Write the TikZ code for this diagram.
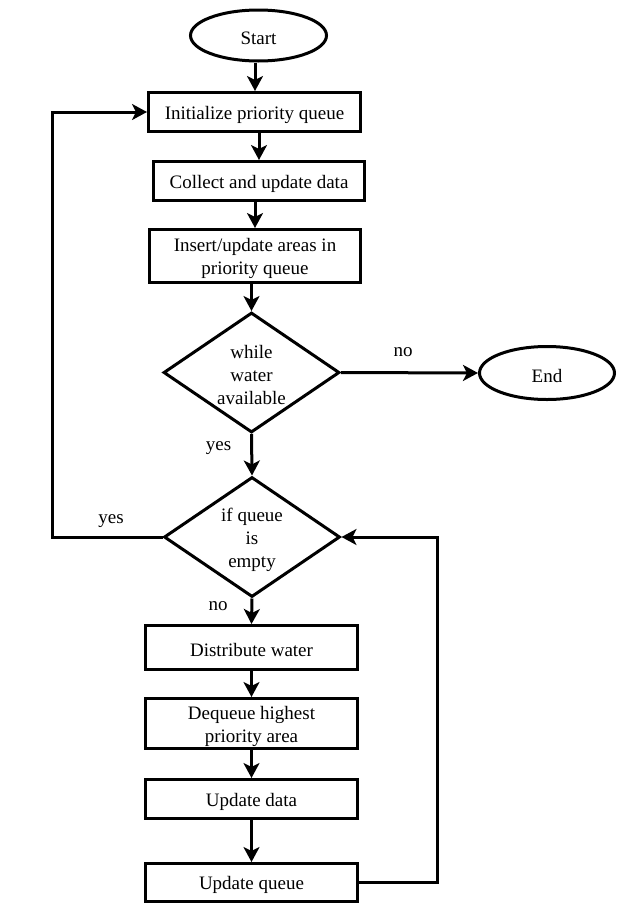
\documentclass[tikz,border=0pt]{standalone}
\usepackage{fontspec}
\setmainfont{Liberation Serif}
\usetikzlibrary{shapes.geometric,arrows.meta}

\begin{document}
\begin{tikzpicture}[x=1pt,y=-1pt,
  every node/.style={font=\fontsize{19}{23}\selectfont, align=center},
  every label/.style={inner sep=0pt},
  % the caption sits a little below the geometric centre of its shape
  caption/.style={label={[yshift=-2.5pt]center:{#1}}},
  proc/.style={draw, line width=3pt, rectangle, inner sep=0pt, minimum width=212pt},
  term/.style={draw, line width=3pt, ellipse, inner sep=0pt},
  decision/.style={draw, line width=3pt, diamond, inner sep=0pt,
    minimum width=176pt, minimum height=120pt},
  arr/.style={line width=3pt, -{Stealth[length=15pt, width=16pt, inset=4pt]}},
  lbl/.style={anchor=base, inner sep=0pt}
]
\useasboundingbox (0,0) rectangle (625,913);

% shapes with their captions
\node[term, minimum width=136pt, minimum height=51pt, caption={Start}] (start) at (258.5,35.5) {};
\node[proc, minimum height=39pt, caption={Initialize priority queue}] (init) at (254.5,112) {};
\node[proc, minimum width=211pt, minimum height=39pt, caption={Collect and update data}] (collect) at (259,181) {};
\node[proc, minimum width=211pt, minimum height=53pt, caption={Insert/update areas in\\priority queue}] (insert) at (255,256) {};
\node[decision, caption={while\\water\\available}] (water) at (251.5,372.5) {};
\node[term, minimum width=135pt, minimum height=53pt, caption={End}] (end) at (547,373) {};
\node[decision, caption={if queue\\is\\empty}] (empty) at (252,537) {};
\node[proc, minimum height=44pt, caption={Distribute water}] (distribute) at (251.5,647.5) {};
\node[proc, minimum height=50pt, caption={Dequeue highest\\priority area}] (dequeue) at (251.5,723.5) {};
\node[proc, minimum height=39pt, caption={Update data}] (udata) at (251.5,799) {};
\node[proc, minimum height=38pt, caption={Update queue}] (uqueue) at (251.5,882.5) {};

% main flow
\draw[arr] ([xshift=-3.5pt]start.south) -- ([xshift=-3.5pt]start.south |- init.north);
\draw[arr] (init.south -| collect.north) -- (collect.north);
\draw[arr] (collect.south -| insert.north) -- (insert.north);
\draw[arr] (insert.south -| water.north) -- (water.north);
\draw[arr] (water.east) -- (end.west);
\draw[arr] (water.south) -- (empty.north);
\draw[arr] (empty.south) -- (distribute.north);
\draw[arr] (distribute.south) -- (dequeue.north);
\draw[arr] (dequeue.south) -- (udata.north);
\draw[arr] (udata.south) -- (uqueue.north);

% loops back
\coordinate (leftrail) at (52,0);
\coordinate (rightrail) at (437,0);
\draw[arr] (empty.west) -| (leftrail |- init.west) -- (init.west);
\draw[arr] (uqueue.east) -| (rightrail |- empty.east) -- (empty.east);

% branch labels
\node[lbl] (lno1) at (403,356.5) {no};
\node[lbl] (lyes1) at (218.5,450) {yes};
\node[lbl] (lyes2) at (111,523.5) {yes};
\node[lbl] (lno2) at (218,610.5) {no};
\end{tikzpicture}
\end{document}
